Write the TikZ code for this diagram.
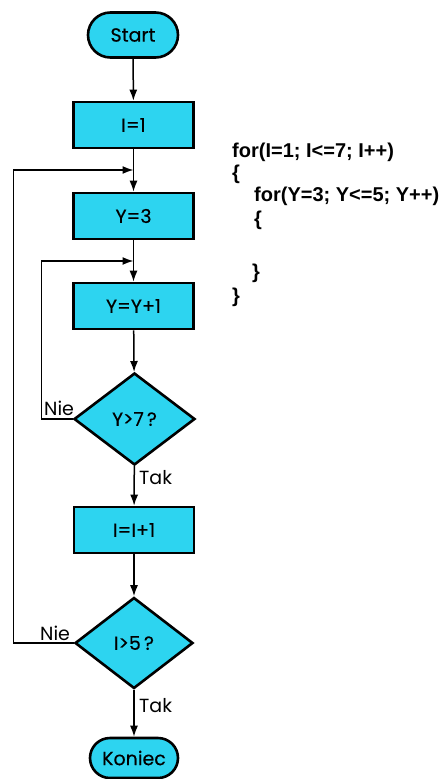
\documentclass[tikz,border=0pt]{standalone}
\usepackage{fontspec}
\newfontfamily\labfont[FakeBold=0.35]{Poppins}
\newfontfamily\smallfont{Poppins}
\newfontfamily\codefont{Liberation Sans}
\usetikzlibrary{shapes.misc,shapes.geometric,arrows.meta}
\definecolor{boxcyan}{RGB}{45,212,240}
\tikzset{
  x=1pt,y=-1pt,
  every node/.style={font=\labfont\fontsize{19}{21}\selectfont, inner sep=0pt},
  term/.style={rounded rectangle, draw, line width=2.6pt, fill=boxcyan, minimum width=90pt, minimum height=45pt},
  proc/.style={rectangle, draw, line width=2.6pt, fill=boxcyan, minimum width=120pt, minimum height=46pt},
  decis/.style={diamond, draw, line width=2.6pt, fill=boxcyan, minimum width=120pt, minimum height=92pt, aspect=1.3},
  conn/.style={line width=1.5pt, -{Latex[length=11pt,width=8pt]}},
  lbl/.style={font=\smallfont\fontsize{19}{21}\selectfont},
  code/.style={font=\codefont\bfseries\fontsize{20}{22}\selectfont, anchor=west}
}
\begin{document}
\begin{tikzpicture}
\useasboundingbox (0,0) rectangle (445,779);
\node[term] (start) at (133,35) {Start};
\node[proc] (i1) at (133.5,125) {I=1};
\node[proc] (y3) at (133.5,216) {Y=3};
\node[proc] (yy) at (133.5,306) {Y=Y+1};
\node[decis, minimum width=121pt, minimum height=92pt] (d1) at (134.5,419) {Y>7\,?};
\node[proc] (ii) at (134,530) {I=I+1};
\node[decis, minimum width=118pt, minimum height=91pt] (d2) at (134,643) {I>5\,?};
\node[term, minimum width=88pt, minimum height=40pt] (end) at (134,758) {Koniec};

\coordinate (j1) at (133.5,170);
\coordinate (j2) at (133.5,261);

\draw[conn] (start) -- (i1);
\draw[conn] (i1) -- (y3);
\draw[conn] (y3) -- (yy);
\draw[conn] (yy) -- (d1);
\draw[conn] (d1) -- (ii);
\draw[conn] (ii) -- (d2);
\draw[conn] (d2) -- (end);

\draw[conn] (d1.west) -- ++(-31,0) |- (j2);
\draw[conn] (d2.west) -- ++(-60,0) |- (j1);

\node[lbl, anchor=south west] (nie1) at (44,416) {Nie};
\node[lbl, anchor=south west] (nie2) at (40,641) {Nie};
\node[lbl, anchor=west] (tak1) at (139,478) {Tak};
\node[lbl, anchor=west] (tak2) at (139,706) {Tak};

\node[code] (c1) at (232,152) {for(I=1; I<=7; I++)};
\node[code] (c2) at (232,174) {\{};
\node[code] (c3) at (254,196) {for(Y=3; Y<=5; Y++)};
\node[code] (c4) at (254,220) {\{};
\node[code] (c5) at (252,273) {\}};
\node[code] (c6) at (232,297) {\}};
\end{tikzpicture}
\end{document}
